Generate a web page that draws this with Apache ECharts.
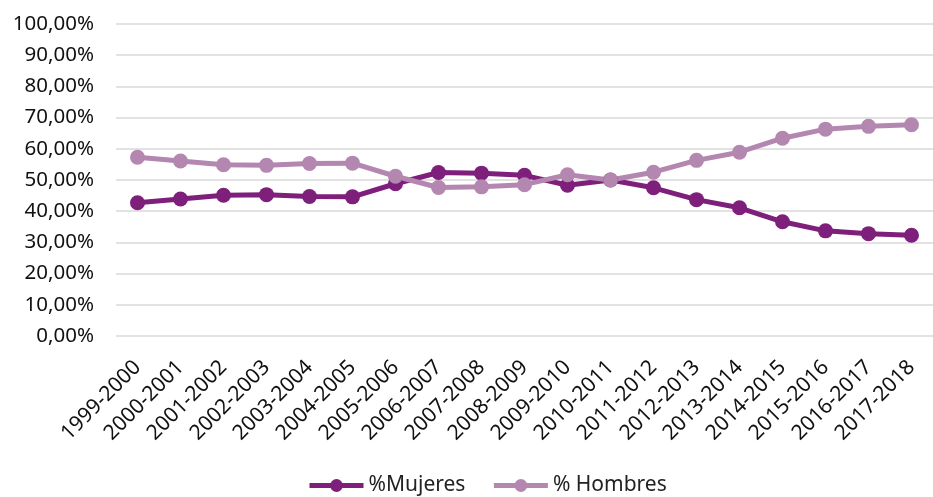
<!DOCTYPE html>
<html>
<head>
<meta charset="utf-8">
<script src="https://cdn.jsdelivr.net/npm/echarts@6/dist/echarts.min.js"></script>
<style>html,body{margin:0;padding:0;background:#fff;}#c{width:933px;height:497px;}</style>
</head>
<body>
<div id="c"></div>
<script>
const categories = ["1999-2000","2000-2001","2001-2002","2002-2003","2003-2004","2004-2005","2005-2006","2006-2007","2007-2008","2008-2009","2009-2010","2010-2011","2011-2012","2012-2013","2013-2014","2014-2015","2015-2016","2016-2017","2017-2018"];
const mujeres = [42.7,43.9,45.1,45.3,44.7,44.6,48.8,52.4,52.2,51.5,48.3,50.0,47.5,43.7,41.1,36.6,33.7,32.8,32.3];
const hombres = [57.3,56.1,54.9,54.7,55.3,55.4,51.2,47.6,47.8,48.5,51.7,50.0,52.5,56.3,58.9,63.4,66.3,67.2,67.7];
const yTicks = [0,10,20,30,40,50,60,70,80,90,100];
const seriesNames = ["%Mujeres","% Hombres"];
const colors = ["#7E1F7B","#B487B1"];

const font = "Noto Sans";
const chart = echarts.init(document.getElementById('c'), null, {renderer:'canvas'});
chart.setOption({
  animation:false,
  color: colors,
  grid:{left:116,right:-13,top:24,bottom:161,containLabel:false},
  legend:{
    left:302,top:470,itemWidth:54,itemHeight:16,itemGap:26,
    lineStyle:{width:5},
    textStyle:{fontFamily:font,fontSize:21,color:'#222'},
    data:seriesNames
  },
  xAxis:{
    type:'category',data:categories,boundaryGap:true,
    axisLine:{show:false},axisTick:{show:false},
    axisLabel:{rotate:45,fontFamily:font,fontSize:21,color:'#111',margin:28,interval:0}
  },
  yAxis:{
    type:'value',min:yTicks[0],max:yTicks[yTicks.length-1],interval:10,
    axisLine:{show:false},axisTick:{show:false},
    splitLine:{lineStyle:{color:'#d9d9d9',width:1.5}},
    axisLabel:{fontFamily:font,fontSize:20.5,color:'#111',margin:22,
      formatter:v=>v.toFixed(2).replace('.',',')+'%'}
  },
  series:[
    {name:seriesNames[0],type:'line',data:mujeres,symbol:'circle',symbolSize:15,
     lineStyle:{width:5,color:colors[0]},itemStyle:{color:colors[0]}},
    {name:seriesNames[1],type:'line',data:hombres,symbol:'circle',symbolSize:15,
     lineStyle:{width:5,color:colors[1]},itemStyle:{color:colors[1]}}
  ]
});
</script>
</body>
</html>
